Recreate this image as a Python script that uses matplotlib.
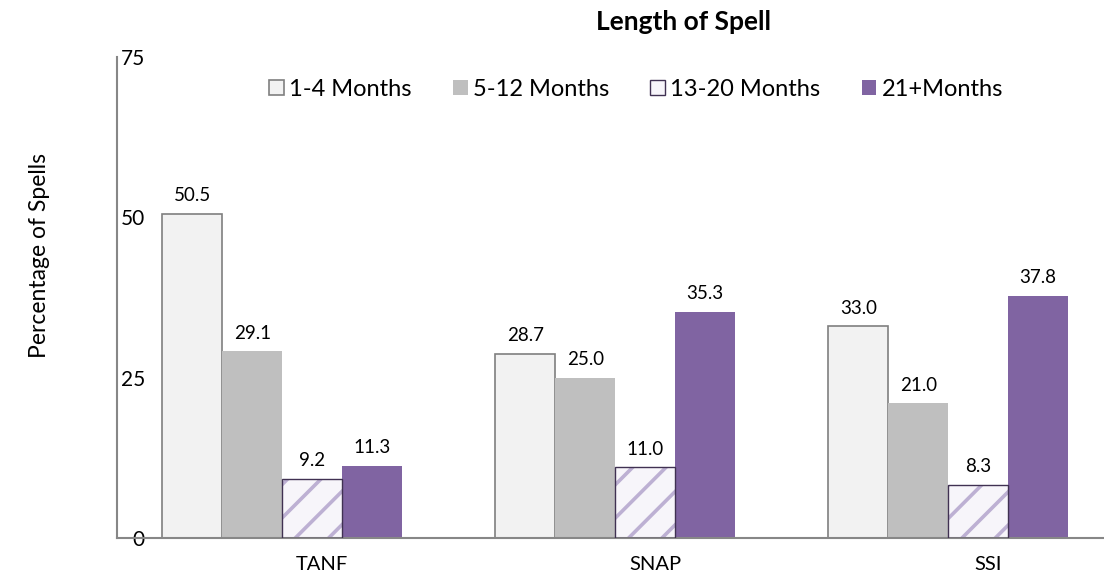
import numpy as np
import matplotlib.pyplot as plt
from matplotlib.patches import Patch

plt.rcParams['font.family'] = ['Lato', 'DejaVu Sans']
plt.rcParams['hatch.linewidth'] = 2.6

# data
programs = ['TANF', 'SNAP', 'SSI']
spell_lengths = ['1-4 Months', '5-12 Months', '13-20 Months', '21+Months']
months_1_4 = [50.5, 28.7, 33.0]
months_5_12 = [29.1, 25.0, 21.0]
months_13_20 = [9.2, 11.0, 8.3]
months_21_plus = [11.3, 35.3, 37.8]
y_ticks = [0, 25, 50, 75]

series = [months_1_4, months_5_12, months_13_20, months_21_plus]
styles = [
    dict(facecolor='#F2F2F2', edgecolor='#7F7F7F', linewidth=1.2),
    dict(facecolor='#BFBFBF', edgecolor='#BFBFBF', linewidth=0),
    None,
    dict(facecolor='#8064A2', edgecolor='#8064A2', linewidth=0),
]

fig = plt.figure(figsize=(11.04, 5.80), dpi=100)
ax = fig.add_axes([117 / 1104, 1 - 538 / 580, 1 - 117 / 1104, (538 - 57) / 580])

x = np.arange(len(programs))
w = 0.18
for i, (vals, st) in enumerate(zip(series, styles)):
    pos = x + (i - 1.5) * w
    if st is None:
        # light purple stripes, dark purple outline
        bars = ax.bar(pos, vals, w, facecolor='#F7F5FA', edgecolor='#BDB0D3',
                      linewidth=0, hatch='/', zorder=2)
        ax.bar(pos, vals, w, facecolor='none', edgecolor='#403152',
               linewidth=1.0, zorder=3)
    else:
        bars = ax.bar(pos, vals, w, zorder=2, **st)
    for b, v in zip(bars, vals):
        ax.annotate(f'{v:.1f}', (b.get_x() + b.get_width() / 2, v),
                    xytext=(0, 7), textcoords='offset points',
                    ha='center', va='bottom', fontsize=13.5)

ax.set_xlim(-0.496, 2.468)
ax.set_ylim(0, 75)
ax.set_yticks(y_ticks)
ax.set_yticklabels([str(t) for t in y_ticks], fontsize=15, ha='right')
ax.tick_params(axis='y', length=0, pad=-20)
ax.set_xticks(x + 0.12)
ax.set_xticklabels(programs, fontsize=14.5)
ax.tick_params(axis='x', length=0, pad=13)

for s in ['top', 'right']:
    ax.spines[s].set_visible(False)
ax.spines['left'].set_color('#878787')
ax.spines['bottom'].set_color('#878787')
ax.spines['left'].set_linewidth(1.5)
ax.spines['bottom'].set_linewidth(1.5)

fig.text(40 / 1104, 1 - 255 / 580, 'Percentage of Spells', rotation=90,
         ha='center', va='center', fontsize=16.5)
fig.text(683 / 1104, 1 - 22 / 580, 'Length of Spell', ha='center', va='center',
         fontsize=19, fontweight='bold')

handles = [
    Patch(facecolor='#F2F2F2', edgecolor='#7F7F7F', linewidth=1.2),
    Patch(facecolor='#BFBFBF', edgecolor='#BFBFBF', linewidth=0),
    Patch(facecolor='#F7F5FA', edgecolor='#403152', linewidth=1.0),
    Patch(facecolor='#8064A2', edgecolor='#8064A2', linewidth=0),
]
fig.legend(handles, spell_lengths, loc='center', ncol=4, frameon=False,
           bbox_to_anchor=(636 / 1104, 1 - 89 / 580), fontsize=17,
           handlelength=0.62, handleheight=0.62, handletextpad=0.22,
           columnspacing=1.75)

fig.savefig('out.png', dpi=100)
